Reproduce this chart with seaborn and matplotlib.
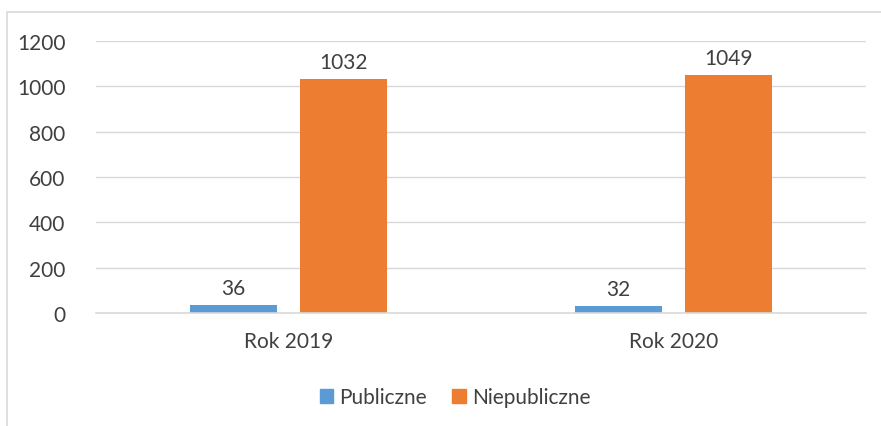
import matplotlib
matplotlib.use("Agg")
import matplotlib.pyplot as plt
import seaborn as sns
import pandas as pd
from matplotlib.patches import Rectangle

categories = ["Rok 2019", "Rok 2020"]
series_names = ["Publiczne", "Niepubliczne"]
publiczne = [36, 32]
niepubliczne = [1032, 1049]
yticks = [0, 200, 400, 600, 800, 1000, 1200]

df = pd.DataFrame({
    "cat": categories * 2,
    "series": [series_names[0]] * len(categories) + [series_names[1]] * len(categories),
    "value": publiczne + niepubliczne,
})

sns.set_theme(style="white")
plt.rcParams["font.family"] = ["Lato", "DejaVu Sans"]
txt = "#404040"
fs = 15

fig = plt.figure(figsize=(8.81, 4.27), dpi=100)
ax = fig.add_axes([96 / 881, 1 - 314 / 427, 770 / 881, 272 / 427])

sns.barplot(data=df, x="cat", y="value", hue="series",
            palette=["#5B9BD5", "#ED7D31"], width=0.571, gap=0.21,
            ax=ax, legend=False, saturation=1, linewidth=0)

ax.set_ylim(0, 1200)
ax.set_xlim(-0.5, 1.5)
ax.set_yticks(yticks)
ax.yaxis.grid(True, color="#D9D9D9", linewidth=1)
ax.set_axisbelow(True)
for s in ["top", "right", "left"]:
    ax.spines[s].set_visible(False)
ax.spines["bottom"].set_color("#D9D9D9")
ax.spines["bottom"].set_linewidth(1.2)
ax.set_xlabel("")
ax.set_ylabel("")
ax.tick_params(axis="y", length=0, pad=22, labelsize=fs, labelcolor=txt)
ax.tick_params(axis="x", length=0, pad=13, labelsize=fs, labelcolor=txt)

for cont in ax.containers:
    ax.bar_label(cont, labels=[f"{int(v)}" for v in cont.datavalues],
                 padding=5, fontsize=fs, color=txt)

# legend
handles = [Rectangle((0, 0), 1, 1, color=c) for c in ["#5B9BD5", "#ED7D31"]]
fig.legend(handles, series_names, loc="center", bbox_to_anchor=(455 / 881, 1 - 398 / 427),
           ncol=2, frameon=False, fontsize=fs, handlelength=0.65, handleheight=0.65,
           handletextpad=0.3, columnspacing=1.2, labelcolor=txt)

# chart frame (Excel style)
frame = Rectangle((7 / 881, -0.1), 1.2, 1 - 13 / 427 + 0.1, transform=fig.transFigure,
                  fill=False, edgecolor="#D9D9D9", linewidth=1.2)
fig.add_artist(frame)

fig.savefig("out.png", dpi=100)
